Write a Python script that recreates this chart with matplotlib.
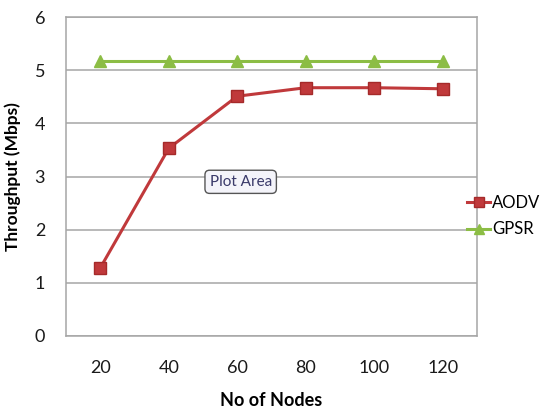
import matplotlib
matplotlib.use('Agg')
from matplotlib import pyplot as plt

nodes = ['20', '40', '60', '80', '100', '120']
aodv = [1.28, 3.53, 4.51, 4.67, 4.67, 4.65]
gpsr = [5.18, 5.18, 5.18, 5.18, 5.18, 5.18]
y_ticks = [0, 1, 2, 3, 4, 5, 6]

plt.rcParams['font.family'] = ['Lato', 'DejaVu Sans']

W, H = 542, 412
fig = plt.figure(figsize=(W / 100, H / 100), dpi=100)
fig.patch.set_facecolor('white')

# plot area in pixel coordinates
left, right, top, bottom = 66, 477, 17, 336
ax = fig.add_axes([left / W, 1 - bottom / H, (right - left) / W, (bottom - top) / H])

x = list(range(len(nodes)))
ax.plot(x, aodv, color='#c0393b', lw=2.2, marker='s', ms=8,
        markerfacecolor='#c0393b', markeredgecolor='#a52a2a', label='AODV', zorder=3)
ax.plot(x, gpsr, color='#8cbd45', lw=2.2, marker='^', ms=8,
        markerfacecolor='#8cbd45', markeredgecolor='#8cbd45', label='GPSR', zorder=3)

ax.set_xlim(-0.5, len(nodes) - 0.5)
ax.set_ylim(0, 6)
ax.set_xticks(x)
ax.set_xticklabels(nodes)
ax.set_yticks(y_ticks)
ax.yaxis.grid(True, color='#a6a6a6', lw=1.1)
ax.set_axisbelow(True)
for s in ax.spines.values():
    s.set_color('#a6a6a6')
    s.set_linewidth(1.1)
ax.tick_params(length=0, labelsize=13, colors='#1a1a1a')
ax.tick_params(axis='x', pad=17)
ax.tick_params(axis='y', pad=15)

ax.set_xlabel('No of Nodes', fontsize=13, fontweight='bold', labelpad=12)
ax.set_ylabel('Throughput (Mbps)', fontsize=12.5, fontweight='bold', labelpad=10)

# legend sits just right of the plot area, handles overlapping its edge
fig.legend(loc='center left', bbox_to_anchor=(467 / W, 1 - 216 / H), frameon=False,
           fontsize=12, handlelength=1.4, handletextpad=0.1, labelspacing=0.65,
           borderpad=0.0, borderaxespad=0.0, markerscale=0.85)

ax.text(2.05, 2.9, 'Plot Area', fontsize=11, color='#3a3a6a', ha='center', va='center',
        bbox=dict(boxstyle='round,pad=0.3', fc='#f4f4fa', ec='#555555', lw=1))

fig.savefig('out.png', dpi=100)
